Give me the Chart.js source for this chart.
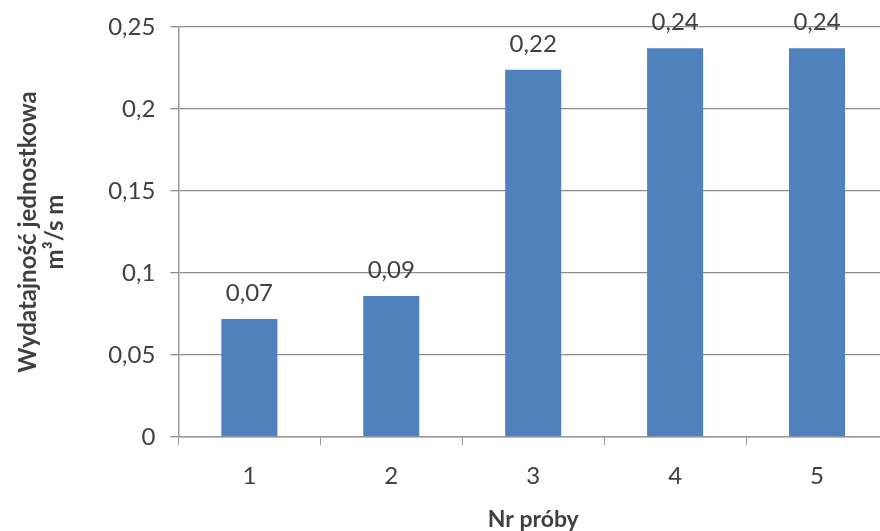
<!DOCTYPE html>
<html>
<head>
<meta charset="utf-8">
<script src="https://cdn.jsdelivr.net/npm/chart.js@4/dist/chart.umd.min.js"></script>
<style>
  html, body { margin: 0; padding: 0; background: #fff; overflow: hidden; }
  #wrap { position: relative; width: 890px; height: 531px; }
</style>
</head>
<body>
<div id="wrap"><canvas id="chart"></canvas></div>
<script>
// sample numbers and measured specific yield (m3/s m)
const categories = ['1', '2', '3', '4', '5'];
const yieldValues = [0.072, 0.086, 0.224, 0.237, 0.237];
const yTicks = [0, 0.05, 0.1, 0.15, 0.2, 0.25];

const textColor = '#404040';
const fontFamily = 'Lato, "Open Sans", sans-serif';

function fmt(v) {
  return String(v).replace('.', ',');
}

// draws the value above each bar, like Excel data labels
const valueLabels = {
  id: 'valueLabels',
  afterDatasetsDraw(chart) {
    const ctx = chart.ctx;
    const meta = chart.getDatasetMeta(0);
    ctx.save();
    ctx.font = '24px ' + fontFamily;
    ctx.fillStyle = textColor;
    ctx.textAlign = 'center';
    ctx.textBaseline = 'alphabetic';
    meta.data.forEach((bar, i) => {
      ctx.fillText(fmt(yieldValues[i].toFixed(2)), bar.x, bar.y - 18);
    });
    ctx.restore();
  }
};

const ctx = document.getElementById('chart');
new Chart(ctx, {
  type: 'bar',
  data: {
    labels: categories,
    datasets: [{
      data: yieldValues,
      backgroundColor: '#4F81BD',
      borderWidth: 0,
      categoryPercentage: 1,
      barPercentage: 0.395,
    }],
  },
  options: {
    responsive: true,
    maintainAspectRatio: false,
    animation: false,
    layout: {
      padding: { top: 14, right: 2, left: 10, bottom: 0 },
    },
    plugins: {
      legend: { display: false },
      tooltip: { enabled: false },
    },
    scales: {
      x: {
        grid: {
          offset: true,
          drawOnChartArea: false,
          color: '#9a9a9a',
          tickLength: 8,
        },
        border: { color: '#9a9a9a', width: 1.5 },
        ticks: {
          color: textColor,
          font: { family: fontFamily, size: 24, lineHeight: 1 },
          padding: 19,
        },
        title: {
          display: true,
          text: 'Nr próby',
          color: textColor,
          font: { family: fontFamily, size: 23, weight: 'bold', lineHeight: 1 },
          padding: { top: 1, bottom: 0 },
        },
      },
      y: {
        min: 0,
        max: 0.25,
        afterBuildTicks(axis) {
          axis.ticks = yTicks.map(v => ({ value: v }));
        },
        grid: {
          color: '#8c8c8c',
          lineWidth: 1.3,
          tickLength: 8,
        },
        border: { color: '#9a9a9a', width: 1.5 },
        ticks: {
          color: textColor,
          font: { family: fontFamily, size: 24, lineHeight: 1 },
          padding: 15,
          callback: v => fmt(v),
        },
        title: {
          display: true,
          text: ['Wydatajność jednostkowa', 'm³/s m'],
          color: textColor,
          font: { family: fontFamily, size: 24, weight: 'bold', lineHeight: 1.15 },
          padding: { top: 4, bottom: 24 },
        },
      },
    },
  },
  plugins: [valueLabels],
});
</script>
</body>
</html>
